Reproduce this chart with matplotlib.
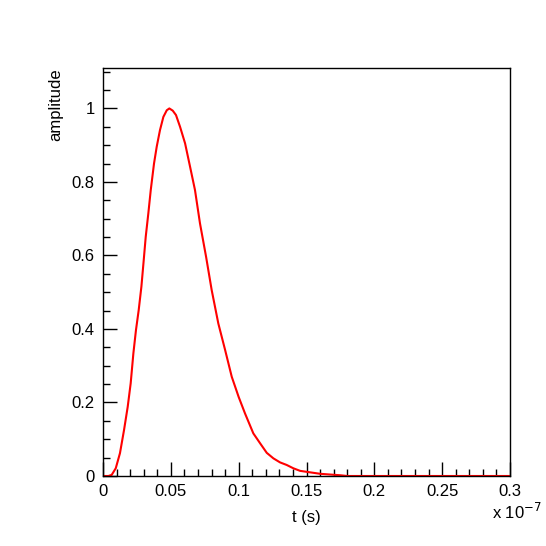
import matplotlib.pyplot as plt
from matplotlib.ticker import MultipleLocator, FuncFormatter

# pulse shape, t in units of 1e-7 s
t = [0.0, 0.004, 0.0064, 0.0094, 0.0125, 0.0155, 0.0182, 0.0204, 0.0224, 0.0243,
     0.0263, 0.0283, 0.0298, 0.0315, 0.0334, 0.0352, 0.0376, 0.0396, 0.042,
     0.0445, 0.047, 0.0489, 0.0514, 0.0538, 0.0568, 0.0605, 0.0642, 0.0678,
     0.0715, 0.076, 0.0801, 0.085, 0.09, 0.0949, 0.1, 0.1047, 0.1108, 0.1158,
     0.1207, 0.1256, 0.1305, 0.1354, 0.1403, 0.1453, 0.1526, 0.16, 0.1674,
     0.175, 0.18, 0.3]
amp = [0.0, 0.0, 0.003, 0.021, 0.062, 0.125, 0.188, 0.252, 0.334, 0.397,
       0.451, 0.515, 0.578, 0.651, 0.714, 0.778, 0.850, 0.896, 0.941,
       0.977, 0.995, 1.0, 0.994, 0.982, 0.950, 0.905, 0.841, 0.778,
       0.687, 0.596, 0.506, 0.415, 0.343, 0.270, 0.215, 0.170, 0.116, 0.089,
       0.063, 0.048, 0.037, 0.030, 0.021, 0.014, 0.010, 0.006, 0.004,
       0.002, 0.0, 0.0]

plt.rcParams.update({"font.family": "Liberation Sans", "font.size": 12})

fig = plt.figure(figsize=(5.46, 5.46), dpi=100)
ax = fig.add_axes([103 / 546, 70 / 546, 407 / 546, 408 / 546])

ax.plot(t, amp, color="red", lw=1.5)
ax.set_xlim(0, 0.3)
ax.set_ylim(0, 1.11)

ax.xaxis.set_major_locator(MultipleLocator(0.05))
ax.xaxis.set_minor_locator(MultipleLocator(0.01))
ax.yaxis.set_major_locator(MultipleLocator(0.2))
ax.yaxis.set_minor_locator(MultipleLocator(0.05))
fmt = FuncFormatter(lambda v, p: ("%g" % round(v, 3)))
ax.xaxis.set_major_formatter(fmt)
ax.yaxis.set_major_formatter(fmt)

ax.tick_params(which="both", direction="in", top=False, right=False, width=1)
ax.tick_params(which="major", length=10, pad=6)
ax.tick_params(which="minor", length=5)
for s in ax.spines.values():
    s.set_linewidth(1)

ax.set_xlabel("t (s)", labelpad=8)
ax.set_ylabel("amplitude", loc="top", labelpad=6)
fig.text(492 / 546, 1 - 512 / 546, r"x 10$^{-7}$", fontsize=12, va="center")

fig.savefig("out.png", dpi=100)
